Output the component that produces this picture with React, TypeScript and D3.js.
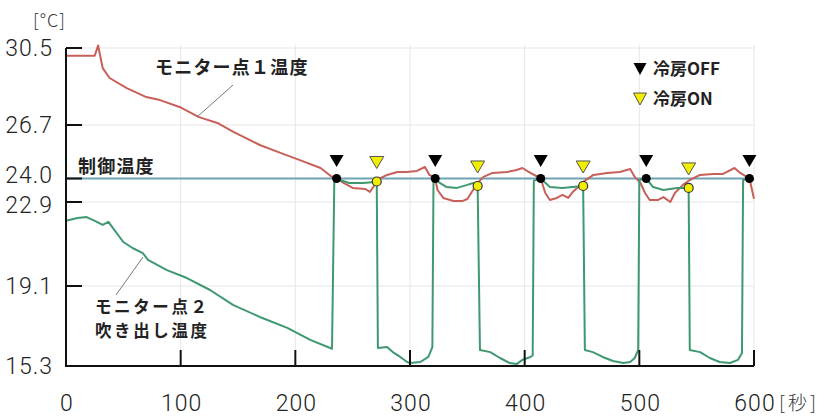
import React from "react";
import * as d3 from "d3";

// ---- data ----
const yTicks = [15.3, 19.1, 22.9, 24.0, 26.7, 30.5];
const xTicks = [0, 100, 200, 300, 400, 500, 600];
const controlTemp = 24.0;

const redTime = [0, 25, 28, 32, 38, 53, 70, 82, 99, 116, 132, 146, 169, 187, 204, 222, 232, 236, 242, 250, 261, 265, 268, 271, 280, 289, 297, 306, 313, 317, 322, 324, 329, 338, 346, 350, 355, 359, 364, 372, 385, 393, 398, 405, 414, 418, 422, 428, 433, 438, 442, 446.5, 451, 460, 472, 483, 492, 496, 501, 505, 509, 516, 521, 527, 531, 538, 544, 553, 564, 573, 583, 588, 596, 600];
const redTemp = [30.12, 30.12, 30.62, 29.51, 29.02, 28.52, 28.08, 27.93, 27.59, 27.09, 26.8, 26.35, 25.69, 25.29, 24.93, 24.53, 24.08, 24.0, 23.79, 23.56, 23.51, 23.37, 23.6, 23.93, 24.18, 24.33, 24.33, 24.38, 24.58, 24.18, 24.0, 23.46, 23.09, 22.95, 22.95, 23.04, 23.46, 23.79, 24.08, 24.28, 24.33, 24.43, 24.53, 24.28, 24.0, 23.32, 22.99, 23.09, 23.23, 23.09, 23.37, 23.6, 23.84, 24.18, 24.28, 24.33, 24.48, 24.08, 23.79, 23.32, 22.99, 22.99, 23.13, 22.9, 23.32, 23.7, 23.93, 24.18, 24.23, 24.23, 24.53, 24.28, 24.0, 23.05];

const greenTime = [0, 10, 18, 27, 32, 37, 41, 50, 58, 67, 71.5, 88, 105.5, 125.6, 145.6, 169, 193, 213, 232, 234, 239, 247, 259, 269, 271, 272, 280, 285, 291.5, 297.5, 300, 309, 316, 319.5, 320.5, 322, 326, 332, 341, 350, 355, 359, 361, 370, 378.5, 387, 393, 398, 405, 407, 408, 414, 422, 433, 442, 451, 452.5, 459.5, 468, 477, 486, 492, 496, 499, 500, 506, 512, 521, 533, 543, 544, 553, 561.5, 570, 579, 586, 589.5, 590.5, 596, 600];
const greenTemp = [22.05, 22.18, 22.22, 22.0, 21.86, 22.0, 21.72, 21.09, 20.82, 20.59, 20.28, 19.82, 19.46, 18.91, 18.2, 17.63, 17.11, 16.54, 16.12, 23.95, 23.93, 23.79, 23.79, 23.84, 23.86, 16.15, 16.2, 15.96, 15.73, 15.49, 15.44, 15.49, 15.73, 16.2, 23.93, 24.0, 23.79, 23.6, 23.56, 23.7, 23.79, 23.65, 16.06, 15.96, 15.68, 15.44, 15.39, 15.59, 15.73, 15.8, 23.9, 24.0, 23.6, 23.56, 23.6, 23.65, 16.06, 15.96, 15.73, 15.54, 15.44, 15.49, 15.68, 16.06, 23.93, 24.0, 23.6, 23.46, 23.56, 23.56, 16.06, 15.96, 15.68, 15.49, 15.44, 15.59, 15.92, 23.93, 24.0, 23.95];

const offTimes = [236, 322, 414, 506, 596];
const onTimes = [271, 359, 451, 543];
const onTemps = [23.86, 23.65, 23.65, 23.56];

const FONT = "'Noto Sans CJK JP', 'Noto Sans', sans-serif";
const NUMFONT = "Roboto, 'Noto Sans', sans-serif";

export default function App() {
  const x = d3.scaleLinear().domain([0, 600]).range([66, 754]);
  const y = d3.scaleLinear().domain([15.3, 19.1, 22.9, 24.0, 26.7, 30.5]).range([366, 286, 202, 178.5, 125, 48]);

  const redPath = d3
    .line<number>()
    .x((t) => x(t))
    .y((_, i) => y(redTemp[i]))(redTime) as string;
  const greenPath = d3
    .line<number>()
    .x((t) => x(t))
    .y((_, i) => y(greenTemp[i]))(greenTime) as string;

  const tri = (cx: number, top: number, w: number, h: number) =>
    `M${cx - w / 2},${top}L${cx + w / 2},${top}L${cx},${top + h}Z`;

  const [x0, x1] = x.range();
  const yTop = y(30.5);
  const yBot = y(15.3);
  // the two crowded labels are nudged apart, as in the original
  const labelNudge = (t: number) => (t === 24.0 ? -3.5 : t === 22.9 ? 3 : 0);

  return (
    <svg
      width={832}
      height={420}
      style={{ position: "absolute", left: 0, top: 0, background: "#fff" }}
      fontFamily={FONT}
    >
      {/* grid */}
      <g stroke="#e6e6e6" strokeWidth={1}>
        {xTicks.filter((t) => t > 0).map((t) => (
          <line key={"gx" + t} x1={x(t)} x2={x(t)} y1={yTop - 3} y2={yBot} />
        ))}
        {yTicks.filter((t) => t > 15.3).map((t) => (
          <line key={"gy" + t} x1={x0} x2={x1} y1={y(t)} y2={y(t)} />
        ))}
      </g>

      {/* control temperature */}
      <line x1={x0} x2={x1} y1={y(controlTemp)} y2={y(controlTemp)} stroke="#6fa3b3" strokeWidth={2} />

      {/* series */}
      <path d={redPath} fill="none" stroke="#c8605a" strokeWidth={2} strokeLinejoin="round" />
      <path d={greenPath} fill="none" stroke="#3e9870" strokeWidth={2} strokeLinejoin="round" />

      {/* axes */}
      <g stroke="#111" strokeWidth={2}>
        <line x1={x0} x2={x0} y1={yTop} y2={yBot + 1} />
        <line x1={x0 - 1} x2={x1} y1={yBot} y2={yBot} />
        {yTicks.map((t) => (
          <line key={"ty" + t} x1={x0} x2={x0 + 16} y1={y(t)} y2={y(t)} />
        ))}
        {xTicks.filter((t) => t > 0).map((t) => (
          <line key={"tx" + t} x1={x(t)} x2={x(t)} y1={yBot} y2={yBot - 16} />
        ))}
      </g>
      <g fontSize={23} fontWeight={300} fill="#222" fontFamily={NUMFONT} letterSpacing={1}>
        {yTicks.map((t) => (
          <text key={"ly" + t} x={53} y={y(t) + labelNudge(t) + 8.3} textAnchor="end">
            {t.toFixed(1)}
          </text>
        ))}
        {xTicks.map((t) => (
          <text key={"lx" + t} x={x(t) + 1} y={410.5} textAnchor="middle">
            {t}
          </text>
        ))}
      </g>
      <text x={33} y={27} fontSize={18} fontWeight={300} fill="#333" letterSpacing={1}>[°C]</text>
      <text x={779} y={410} fontSize={19} fontWeight={300} fill="#333" letterSpacing={3}>[秒]</text>

      {/* markers */}
      {offTimes.map((t) => (
        <g key={"off" + t}>
          <path d={tri(x(t), y(controlTemp) - 23.5, 14, 12)} fill="#000" />
          <circle cx={x(t)} cy={y(controlTemp)} r={4.5} fill="#000" />
        </g>
      ))}
      {onTimes.map((t, i) => (
        <g key={"on" + t}>
          <path d={tri(x(t), y(onTemps[i]) - 25, 14, 12)} fill="#f2ee00" stroke="#555" strokeWidth={1} />
          <circle cx={x(t)} cy={y(onTemps[i])} r={4.5} fill="#f2ee00" stroke="#333" strokeWidth={1.2} />
        </g>
      ))}

      {/* annotations */}
      <g fontWeight="bold" fontSize={18} fill="#222" letterSpacing={1.2}>
        <text x={155} y={74}>モニター点１温度</text>
        <text x={78} y={173}>制御温度</text>
      </g>
      <g fontWeight="bold" fontSize={16.5} fill="#222" letterSpacing={2.6}>
        <text x={95} y={312.5}>モニター点２</text>
        <text x={95} y={336.5}>吹き出し温度</text>
      </g>
      <line x1={233} y1={85} x2={197} y2={117} stroke="#777" strokeWidth={1} />
      <line x1={143} y1={257} x2={116} y2={295} stroke="#777" strokeWidth={1} />

      {/* legend */}
      <path d={tri(640, 63, 13, 12)} fill="#000" />
      <text x={653} y={75} fontSize={17} fontWeight="bold" fill="#222">冷房OFF</text>
      <path d={tri(640, 93, 13, 12)} fill="#f2ee00" stroke="#555" strokeWidth={1} />
      <text x={653} y={105} fontSize={17} fontWeight="bold" fill="#222">冷房ON</text>
    </svg>
  );
}
